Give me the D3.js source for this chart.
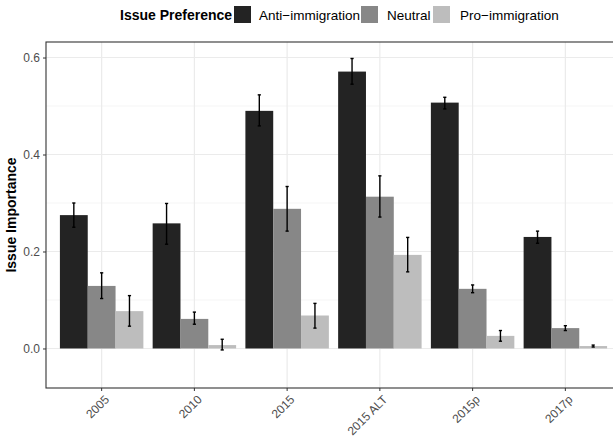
<!DOCTYPE html>
<html><head><meta charset="utf-8">
<script src="https://cdn.jsdelivr.net/npm/d3@7"></script>
<style>body{margin:0;background:#fff}svg{display:block;font-family:"Liberation Sans",Arial,sans-serif}</style>
</head><body><svg id="c" width="613" height="440"></svg>
<script>
const categories = ["2005","2010","2015","2015 ALT","2015p","2017p"];
const series = ["Anti\u2212immigration","Neutral","Pro\u2212immigration"];
const colors = ["#232323","#878787","#bdbdbd"];
const antiVals = [0.275,0.258,0.490,0.571,0.507,0.230];
const antiLo   = [0.250,0.215,0.459,0.545,0.494,0.217];
const antiHi   = [0.300,0.299,0.523,0.598,0.518,0.242];
const neutVals = [0.129,0.061,0.288,0.313,0.123,0.042];
const neutLo   = [0.103,0.050,0.242,0.271,0.115,0.037];
const neutHi   = [0.156,0.075,0.334,0.356,0.131,0.047];
const proVals  = [0.077,0.007,0.068,0.193,0.026,0.005];
const proLo    = [0.046,-0.003,0.042,0.158,0.015,0.003];
const proHi    = [0.109,0.019,0.093,0.229,0.037,0.007];
const yTicks = [0.0,0.2,0.4,0.6];
const yMinor = [0.1,0.3,0.5];

const vals=[antiVals,neutVals,proVals], los=[antiLo,neutLo,proLo], his=[antiHi,neutHi,proHi];
const rows=[];
categories.forEach((c,i)=>series.forEach((s,j)=>rows.push({c,s,j,v:vals[j][i],lo:los[j][i],hi:his[j][i]})));

const svg=d3.select("#c");
const L=46,R=621,T=42,B=388;
const x=d3.scaleBand().domain(categories).range([L,R]).paddingInner(0).paddingOuter(0.1);
const bw=x.bandwidth();
const xs=d3.scaleBand().domain(series).range([-0.45*bw,0.45*bw]);
const y=d3.scaleLinear().domain([-0.0815,0.632]).range([B,T]);

// grid
const g=svg.append("g");
yMinor.forEach(t=>g.append("line").attr("x1",L).attr("x2",R).attr("y1",y(t)).attr("y2",y(t)).attr("stroke","#f2f2f2").attr("stroke-width",0.8));
yTicks.forEach(t=>g.append("line").attr("x1",L).attr("x2",R).attr("y1",y(t)).attr("y2",y(t)).attr("stroke","#ebebeb").attr("stroke-width",1.2));
categories.forEach(c=>g.append("line").attr("x1",x(c)+bw/2).attr("x2",x(c)+bw/2).attr("y1",T).attr("y2",B).attr("stroke","#ebebeb").attr("stroke-width",1.2));

// bars
svg.append("g").selectAll("rect").data(rows).join("rect")
  .attr("x",d=>x(d.c)+bw/2+xs(d.s)).attr("width",xs.bandwidth())
  .attr("y",d=>y(Math.max(0,d.v))).attr("height",d=>Math.abs(y(d.v)-y(0)))
  .attr("fill",d=>colors[d.j]);

// error bars
const eb=svg.append("g").attr("stroke","#000").attr("stroke-width",1.4);
rows.forEach(d=>{
  const cx=x(d.c)+bw/2+xs(d.s)+xs.bandwidth()/2;
  eb.append("line").attr("x1",cx).attr("x2",cx).attr("y1",y(d.lo)).attr("y2",y(d.hi));
  [d.lo,d.hi].forEach(v=>eb.append("line").attr("x1",cx-1.6).attr("x2",cx+1.6).attr("y1",y(v)).attr("y2",y(v)));
});

// border
svg.append("rect").attr("x",L).attr("y",T).attr("width",R-L).attr("height",B-T).attr("fill","none").attr("stroke","#333").attr("stroke-width",1.1);

// axes
const ya=svg.append("g").attr("transform",`translate(${L},0)`).call(d3.axisLeft(y).tickValues(yTicks).tickFormat(d3.format(".1f")).tickSize(3).tickPadding(3));
ya.select(".domain").remove();
ya.selectAll("line").attr("stroke","#333");
ya.selectAll("text").attr("fill","#4d4d4d").attr("font-size",12).attr("font-family","Liberation Sans, Arial, sans-serif");
const xa=svg.append("g").attr("transform",`translate(0,${B})`).call(d3.axisBottom(x).tickSize(3));
xa.select(".domain").remove();
xa.selectAll("line").attr("stroke","#333");
xa.selectAll("text").attr("fill","#4d4d4d").attr("font-size",12).attr("font-family","Liberation Sans, Arial, sans-serif")
  .attr("text-anchor","end").attr("dy",null).attr("y",0).attr("x",0)
  .attr("transform","translate(2,6) rotate(-45)").attr("dominant-baseline","hanging");

// y title
svg.append("text").attr("transform",`translate(16,${(T+B)/2}) rotate(-90)`).attr("text-anchor","middle")
  .attr("font-weight","bold").attr("font-size",14).attr("fill","#000").text("Issue Importance");

// legend
const lg=svg.append("g");
lg.append("text").attr("x",120).attr("y",20).attr("font-weight","bold").attr("font-size",14).text("Issue Preference");
const keyX=[234,361,433], txtX=[259,387,460];
series.forEach((s,j)=>{
  lg.append("rect").attr("x",keyX[j]).attr("y",6).attr("width",17).attr("height",17).attr("fill",colors[j]);
  lg.append("text").attr("x",txtX[j]).attr("y",20).attr("font-size",13.5).attr("fill","#000").text(s);
});
</script></body></html>
